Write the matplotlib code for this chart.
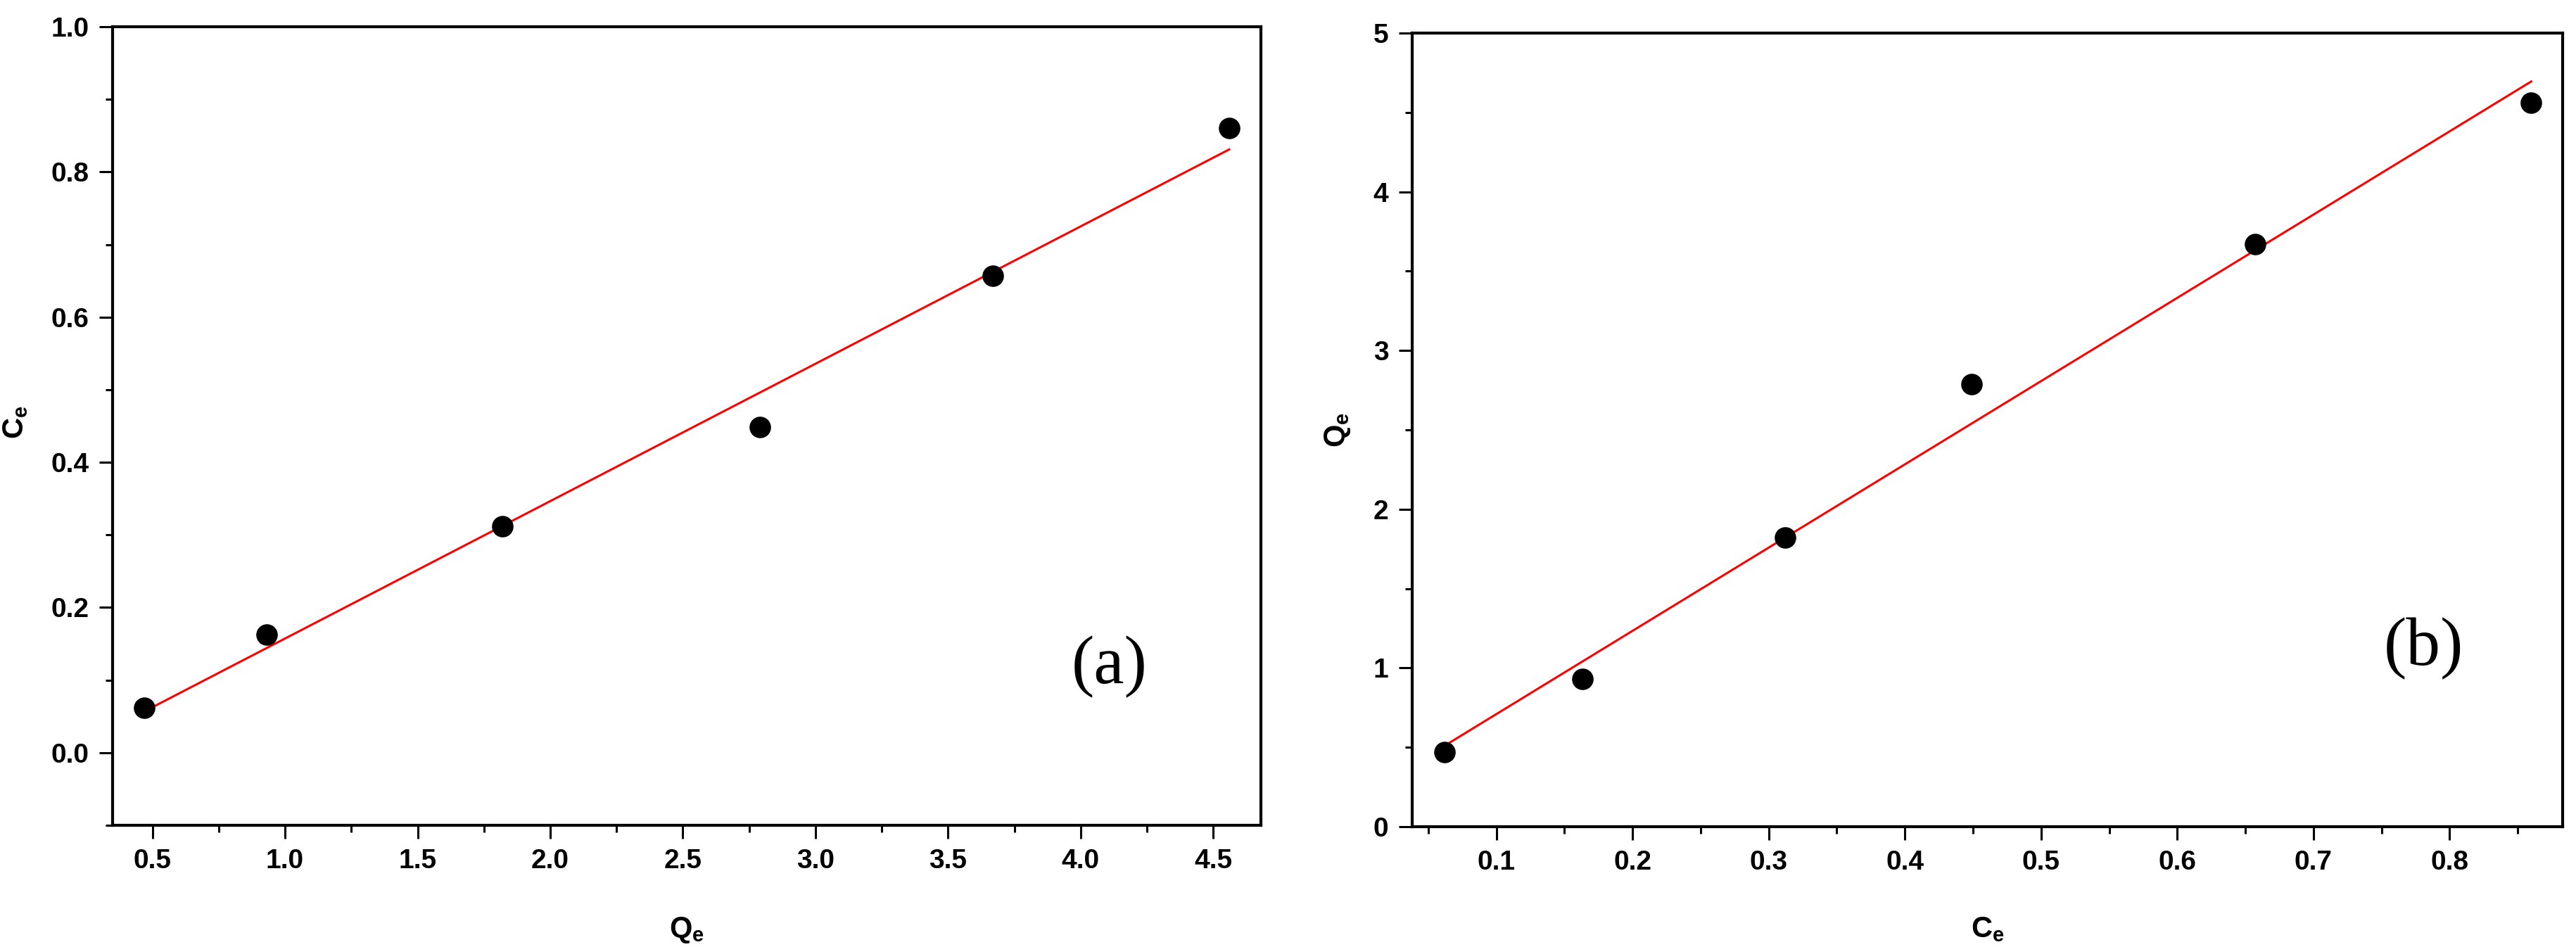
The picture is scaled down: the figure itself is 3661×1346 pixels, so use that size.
import numpy as np
import matplotlib
matplotlib.use("Agg")
import matplotlib.pyplot as plt
from matplotlib.ticker import MultipleLocator, FormatStrFormatter

# valores
QE = [0.47, 0.93, 1.82, 2.79, 3.67, 4.56]
CE = [0.062, 0.163, 0.312, 0.449, 0.657, 0.860]

plt.rcParams["font.family"] = "Liberation Sans"
plt.rcParams["font.weight"] = "bold"
plt.rcParams["mathtext.fontset"] = "custom"
plt.rcParams["mathtext.rm"] = "Liberation Sans:bold"
plt.rcParams["mathtext.bf"] = "Liberation Sans:bold"
plt.rcParams["mathtext.it"] = "Liberation Sans:bold"


def estilo(ax, xmaj, ymaj, fmt_x, fmt_y):
    for s in ax.spines.values():
        s.set_linewidth(3)
    ax.xaxis.set_major_locator(MultipleLocator(xmaj))
    ax.xaxis.set_minor_locator(MultipleLocator(xmaj / 2))
    ax.yaxis.set_major_locator(MultipleLocator(ymaj))
    ax.yaxis.set_minor_locator(MultipleLocator(ymaj / 2))
    ax.xaxis.set_major_formatter(FormatStrFormatter(fmt_x))
    ax.yaxis.set_major_formatter(FormatStrFormatter(fmt_y))
    ax.tick_params(which="major", direction="out", length=14, width=2.2,
                   labelsize=28, pad=10, top=False, right=False)
    ax.tick_params(which="minor", direction="out", length=7, width=2.2,
                   top=False, right=False)


def painel(ax, x, y, letra, lx, ly):
    a, b = np.polyfit(x, y, 1)
    xs = np.array([min(x), max(x)])
    ax.plot(xs, a * xs + b, color="red", lw=2.2, zorder=2)
    ax.plot(x, y, "o", color="black", ms=21, zorder=3)
    ax.text(lx, ly, letra, transform=ax.transAxes, fontsize=70,
            family="Liberation Serif", fontweight="normal",
            ha="center", va="center")


def main():
    fig = plt.figure(figsize=(36.62, 13.46), dpi=100)

    ax1 = fig.add_axes([0.0437, 0.1285, 0.4457, 0.8433])
    painel(ax1, QE, CE, "(a)", 0.868, 0.198)
    ax1.set_xlim(0.35, 4.68)
    ax1.set_ylim(-0.1, 1.0)
    estilo(ax1, 0.5, 0.2, "%.1f", "%.1f")
    ax1.set_xlabel(r"$\mathbf{Q_e}$", fontsize=30)
    ax1.set_ylabel(r"$\mathbf{C_e}$", fontsize=30)
    ax1.xaxis.set_label_coords(0.5, -0.113)
    ax1.yaxis.set_label_coords(-0.072, 0.505)

    ax2 = fig.add_axes([0.548, 0.127, 0.4465, 0.838])
    painel(ax2, CE, QE, "(b)", 0.879, 0.224)
    ax2.set_xlim(0.038, 0.883)
    ax2.set_ylim(0, 5)
    estilo(ax2, 0.1, 1, "%.1f", "%d")
    ax2.set_xlabel(r"$\mathbf{C_e}$", fontsize=30)
    ax2.set_ylabel(r"$\mathbf{Q_e}$", fontsize=30)
    ax2.xaxis.set_label_coords(0.5, -0.112)
    ax2.yaxis.set_label_coords(-0.052, 0.5)

    fig.savefig("out.png", dpi=100)


if __name__ == "__main__":
    main()
